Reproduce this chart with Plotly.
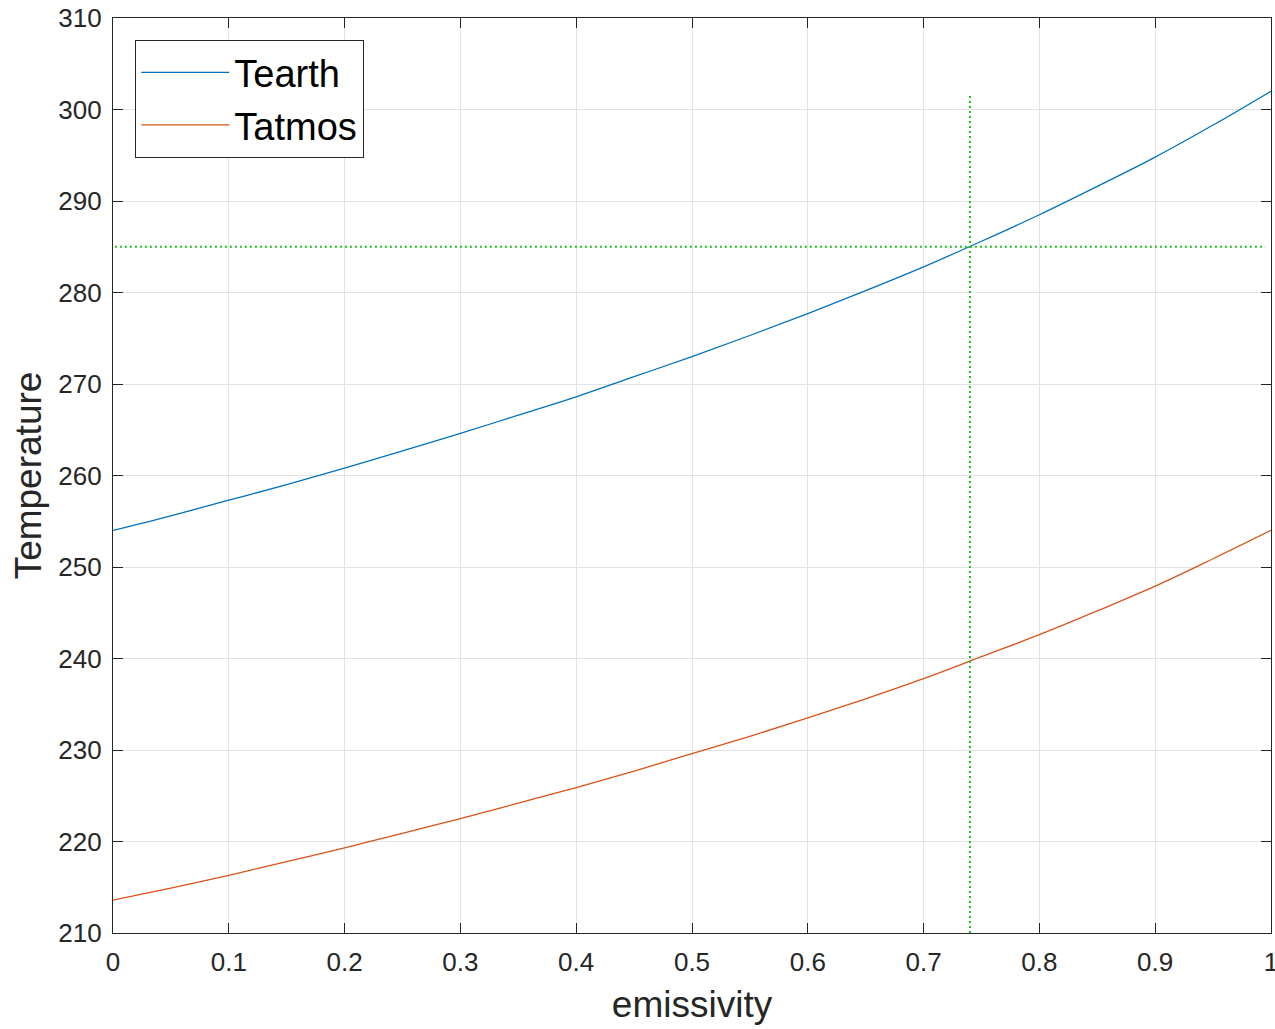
import plotly.graph_objects as go

emissivity = [0.0, 0.05, 0.1, 0.15, 0.2, 0.25, 0.3, 0.35, 0.4, 0.45, 0.5,
              0.55, 0.6, 0.65, 0.7, 0.75, 0.8, 0.85, 0.9, 0.95, 1.0]
tearth = [254.0, 255.6, 257.3, 259.0, 260.8, 262.7, 264.6, 266.6, 268.6, 270.8, 273.0,
          275.3, 277.7, 280.2, 282.8, 285.6, 288.5, 291.6, 294.8, 298.3, 302.0]
tatmos = [213.6, 214.9, 216.3, 217.8, 219.3, 220.9, 222.5, 224.2, 225.9, 227.7, 229.6,
          231.5, 233.5, 235.6, 237.8, 240.2, 242.6, 245.2, 247.9, 250.9, 254.0]

ref_emissivity = 0.74
ref_temperature = 285.0
ref_vline_top = 301.6
ref_hline_x = [-0.007, 0.995]

x_ticks = [0, 0.1, 0.2, 0.3, 0.4, 0.5, 0.6, 0.7, 0.8, 0.9, 1]
x_ticklabels = ["0", "0.1", "0.2", "0.3", "0.4", "0.5", "0.6", "0.7", "0.8", "0.9", "1"]
y_ticks = [210, 220, 230, 240, 250, 260, 270, 280, 290, 300, 310]

FONT = "Liberation Sans, Arial, Helvetica, sans-serif"

fig = go.Figure()
fig.add_trace(go.Scatter(x=emissivity, y=tearth, mode="lines", name="Tearth",
                         line=dict(color="#0072BD", width=1.3, shape="spline")))
fig.add_trace(go.Scatter(x=emissivity, y=tatmos, mode="lines", name="Tatmos",
                         line=dict(color="#D95319", width=1.3, shape="spline")))

green = "#1EBF1E"
fig.add_shape(type="line", xref="x", yref="y", x0=ref_hline_x[0], x1=ref_hline_x[1],
              y0=ref_temperature, y1=ref_temperature,
              line=dict(color=green, width=2, dash="2px,3px"))
fig.add_shape(type="line", xref="x", yref="y", x0=ref_emissivity, x1=ref_emissivity,
              y0=210, y1=ref_vline_top,
              line=dict(color=green, width=2, dash="2px,3px"))

axis_common = dict(
    showline=True, linecolor="#262626", linewidth=1.3, mirror="ticks",
    ticks="inside", ticklen=10, tickwidth=1.3, tickcolor="#262626",
    showgrid=True, gridcolor="#E3E3E3", gridwidth=1, zeroline=False,
    ticklabeloverflow="allow",
    tickfont=dict(family=FONT, size=26, color="#262626"),
)

fig.update_layout(
    width=1275, height=1029,
    margin=dict(l=113, r=4, t=18, b=96),
    paper_bgcolor="white", plot_bgcolor="white",
    font=dict(family=FONT, color="#262626"),
    xaxis=dict(range=[0, 1], tickvals=x_ticks, ticktext=x_ticklabels,
               ticklabelstandoff=6,
               title=dict(text="emissivity", font=dict(size=37, color="#262626"), standoff=14),
               automargin=False, **axis_common),
    yaxis=dict(range=[210, 310], tickvals=y_ticks,
               ticklabelstandoff=5,
               title=dict(text="Temperature", font=dict(size=37, color="#262626"), standoff=5),
               automargin=False, **axis_common),
    legend=dict(x=0.019, y=0.976, xanchor="left", yanchor="top",
                bgcolor="white", bordercolor="#262626", borderwidth=1.3,
                font=dict(size=38, color="black"), itemwidth=88,
                tracegroupgap=0),
    showlegend=True,
)

fig.write_html("out.html", config={"displayModeBar": False},
               post_script="document.body.style.margin='0';")
